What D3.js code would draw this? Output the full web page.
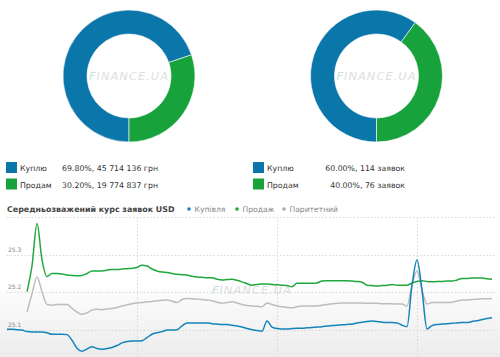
<!DOCTYPE html>
<html><head><meta charset="utf-8">
<script src="https://cdn.jsdelivr.net/npm/d3@7"></script>
<style>
html,body{margin:0;padding:0;background:#fff;}
svg{display:block;font-family:"DejaVu Sans",Verdana,sans-serif;}
</style></head>
<body>
<svg id="c" width="500" height="357"></svg>
<script>
// ---------- DATA ----------
const pieLabels = ["Куплю", "Продам"];
const pieAmount = [69.80, 30.20];
const pieAmountText = ["69.80%, 45 714 136 грн", "30.20%, 19 774 837 грн"];
const pieCount = [60.00, 40.00];
const pieCountText = ["60.00%, 114 заявок", "40.00%, 76 заявок"];

const lineTitle = "Середньозважений курс заявок USD";
const seriesNames = ["Купівля", "Продаж", "Паритетний"];
const dayTicks = [26, 54, 82];          // slot indices of day boundaries
const yGrid = [25.1, 25.2, 25.3, 25.4];
const yLabels = [25.1, 25.2, 25.3];

const buy = [25.102,25.102,25.101,25.100,25.096,25.095,25.095,25.095,25.093,25.089,
25.089,25.089,25.088,25.073,25.052,25.044,25.050,25.056,25.051,25.049,
25.051,25.054,25.059,25.066,25.070,25.071,25.071,25.072,25.080,25.089,
25.093,25.096,25.100,25.100,25.101,25.111,25.119,25.119,25.119,25.119,
25.119,25.117,25.116,25.115,25.115,25.113,25.111,25.108,25.104,25.101,
25.099,25.097,25.124,25.108,25.104,25.103,25.103,25.104,25.105,25.105,
25.106,25.107,25.108,25.109,25.111,25.112,25.113,25.114,25.115,25.116,
25.119,25.121,25.123,25.124,25.123,25.121,25.120,25.120,25.119,25.113,
25.109,25.219,25.286,25.206,25.103,25.112,25.115,25.116,25.117,25.118,
25.119,25.120,25.120,25.123,25.125,25.128,25.131,25.133];
const sell = [null,null,null,null,25.202,25.270,25.383,25.286,25.242,25.250,
25.250,25.249,25.246,25.245,25.244,25.245,25.250,25.257,25.257,25.257,
25.259,25.261,25.261,25.262,25.263,25.264,25.266,25.272,25.270,25.262,
25.257,25.254,25.253,25.250,25.248,25.247,25.246,25.243,25.241,25.240,
25.239,25.239,25.235,25.233,25.234,25.235,25.232,25.228,25.223,25.219,
25.221,25.222,25.222,25.221,25.220,25.219,25.218,25.215,25.224,25.224,
25.224,25.224,25.225,25.230,25.231,25.231,25.231,25.231,25.231,25.230,
25.229,25.227,25.219,25.218,25.217,25.218,25.219,25.221,25.219,25.219,
25.219,25.225,25.229,25.231,25.229,25.228,25.229,25.229,25.230,25.230,
25.233,25.237,25.237,25.238,25.238,25.238,25.236,25.235];
const parity = [null,null,null,null,25.148,25.196,25.241,25.202,25.168,25.166,
25.168,25.168,25.168,25.158,25.148,25.142,25.146,25.153,25.155,25.154,
25.156,25.157,25.160,25.164,25.167,25.170,25.172,25.173,25.175,25.176,
25.178,25.179,25.180,25.177,25.173,25.181,25.184,25.183,25.182,25.181,
25.180,25.178,25.174,25.171,25.173,25.175,25.172,25.168,25.165,25.164,
25.163,25.162,25.172,25.168,25.164,25.162,25.160,25.159,25.162,25.164,
25.164,25.164,25.164,25.166,25.168,25.170,25.171,25.172,25.172,25.172,
25.172,25.172,25.171,25.171,25.171,25.170,25.170,25.170,25.169,25.169,
25.164,25.219,25.257,25.206,25.169,25.173,25.173,25.173,25.173,25.174,
25.177,25.180,25.180,25.181,25.182,25.183,25.183,25.184];

// ---------- STYLE ----------
const BLUE = "#0a76a9", GREEN = "#17a23b";
const LBLUE = "#1484bb", LGREEN = "#1fa83c", LGRAY = "#bdbdbd";
const svg = d3.select("#c");

// ---------- DONUTS ----------
const pie = d3.pie().sort(null).startAngle(Math.PI).endAngle(3 * Math.PI);
const arc = d3.arc().innerRadius(42).outerRadius(66);
function donut(cx, vals) {
  const g = svg.append("g").attr("transform", `translate(${cx},76)`);
  g.selectAll("path").data(pie(vals)).join("path")
    .attr("d", arc).attr("fill", (d, i) => i === 0 ? BLUE : GREEN)
    .attr("stroke", "#fff").attr("stroke-width", 0.6);
  watermark(g, 0, 4);
}
function watermark(g, x, y) {
  const t = g.append("text").attr("x", x).attr("y", y).attr("text-anchor", "middle")
    .attr("font-style", "italic").attr("font-size", 11).attr("letter-spacing", 1)
    .attr("font-family", "'DejaVu Sans', sans-serif")
    .attr("fill", "#dedede").attr("textLength", 80).attr("lengthAdjust", "spacingAndGlyphs");
  t.append("tspan").attr("fill", "#c4e2dc").text("F");
  t.append("tspan").text("INANCE.UA");
}
donut(129, pieAmount);
donut(376.5, pieCount);

// ---------- LEGENDS ----------
function legend(x0, xEnd, texts) {
  pieLabels.forEach((lab, i) => {
    const y = 162 + i * 16.5;
    svg.append("rect").attr("x", x0).attr("y", y).attr("width", 11).attr("height", 11)
      .attr("fill", i === 0 ? BLUE : GREEN);
    svg.append("text").attr("x", x0 + 14).attr("y", y + 9).attr("font-size", 7.8)
      .attr("fill", "#333").text(lab);
    svg.append("text").attr("x", xEnd).attr("y", y + 9).attr("font-size", 7.8)
      .attr("text-anchor", "end").attr("fill", "#333").text(texts[i]);
  });
}
legend(6, 158, pieAmountText);
legend(253, 405, pieCountText);

// ---------- LINE CHART ----------
const x = d3.scaleLinear().domain([0, buy.length - 1]).range([7, 492]);
const y = d3.scaleLinear().domain([25.0, 25.4]).range([367.8, 217]);

const defs = svg.append("defs");
const grad = defs.append("linearGradient").attr("id", "bg").attr("x1", 0).attr("y1", 0).attr("x2", 0).attr("y2", 1);
grad.append("stop").attr("offset", "0").attr("stop-color", "#fff");
grad.append("stop").attr("offset", "0.45").attr("stop-color", "#fff");
grad.append("stop").attr("offset", "1").attr("stop-color", "#ececec");
svg.append("rect").attr("x", 0).attr("y", 217).attr("width", 500).attr("height", 140).attr("fill", "url(#bg)");

svg.append("text").attr("x", 7).attr("y", 211.5).attr("font-size", 7.9).attr("font-weight", "bold")
  .attr("fill", "#444").text(lineTitle);
const legX = [189, 237, 284], legC = [LBLUE, LGREEN, "#aaa"];
seriesNames.forEach((n, i) => {
  svg.append("circle").attr("cx", legX[i]).attr("cy", 209).attr("r", 1.8).attr("fill", legC[i]);
  svg.append("text").attr("x", legX[i] + 5.5).attr("y", 211.5).attr("font-size", 7.6)
    .attr("fill", "#888").text(n);
});

// grid
svg.append("g").selectAll("line").data(yGrid).join("line")
  .attr("x1", 7).attr("x2", 497).attr("y1", d => Math.round(y(d)) + 0.5).attr("y2", d => Math.round(y(d)) + 0.5)
  .attr("stroke", "#d6d6d6").attr("stroke-dasharray", "1.5,2");
svg.append("g").selectAll("line").data(dayTicks).join("line")
  .attr("y1", 217).attr("y2", 357).attr("x1", d => Math.round(x(d)) + 0.5).attr("x2", d => Math.round(x(d)) + 0.5)
  .attr("stroke", "#d6d6d6").attr("stroke-dasharray", "1.5,2");
svg.append("g").selectAll("text").data(yLabels).join("text")
  .attr("x", 8).attr("y", d => y(d) - 3).attr("font-size", 6).attr("fill", "#888")
  .text(d => d.toFixed(1));

// watermark in line chart
watermark(svg.append("g"), 252, 294);

const line = d3.line().defined(d => d != null).x((d, i) => x(i)).y(d => y(d)).curve(d3.curveMonotoneX);
[[parity, LGRAY], [sell, LGREEN], [buy, LBLUE]].forEach(([s, c]) => {
  svg.append("path").attr("d", line(s)).attr("fill", "none").attr("stroke", c)
    .attr("stroke-width", 1.5).attr("stroke-linejoin", "round");
});
</script>
</body></html>
